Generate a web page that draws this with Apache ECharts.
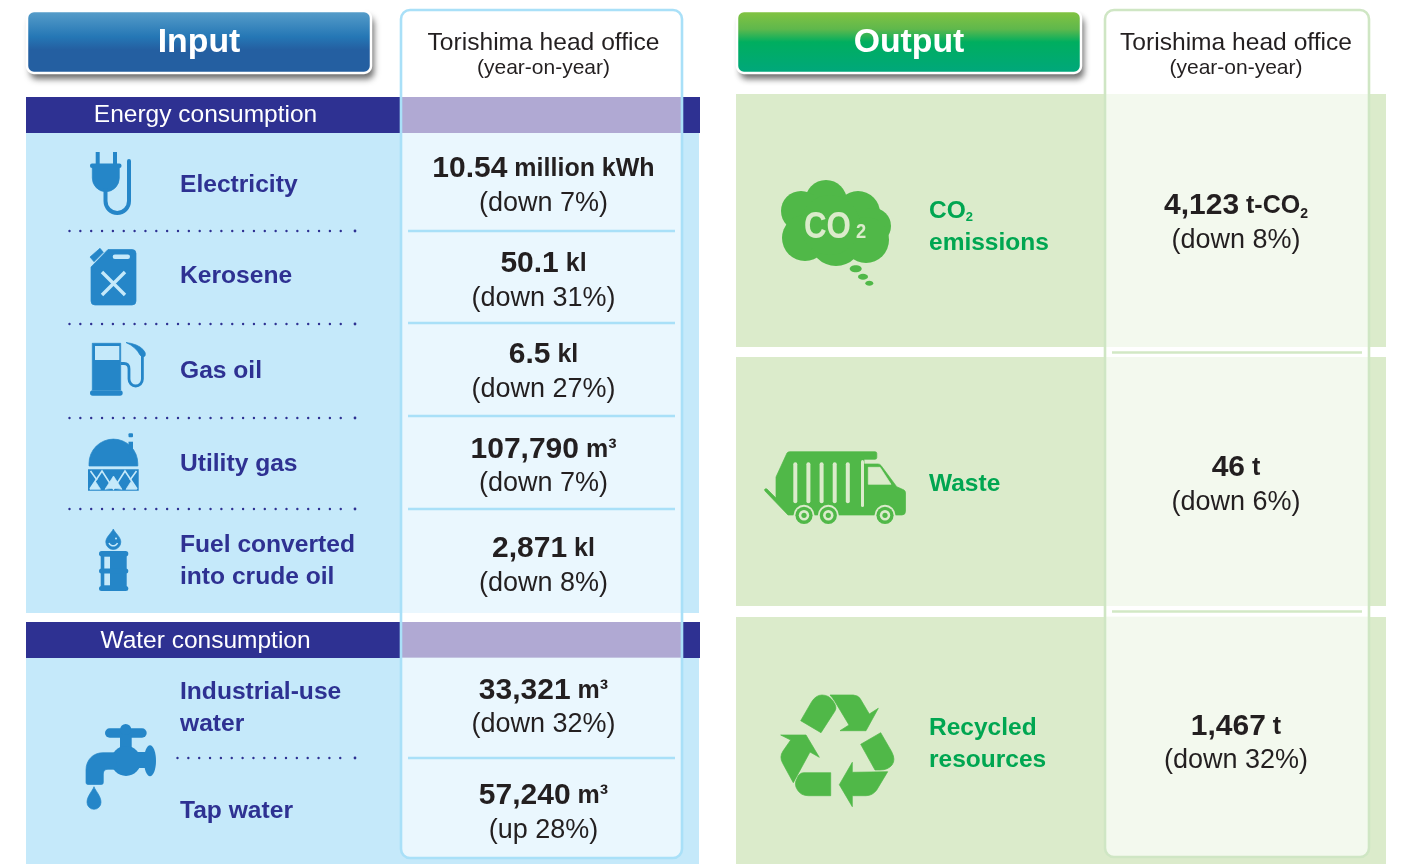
<!DOCTYPE html>
<html>
<head>
<meta charset="utf-8">
<title>Input / Output</title>
<style>
  html, body { margin: 0; padding: 0; background: #fff; }
  #main { width: 1401px; height: 864px; }
</style>
<script src="https://cdn.jsdelivr.net/npm/echarts@6/dist/echarts.min.js"></script>
</head>
<body>
<div id="main"></div>
<script>
// table content
var inputTitle = 'Input';
var outputTitle = 'Output';
var officeTitle = 'Torishima head office';
var officeSub = '(year-on-year)';
var groupTitles = ['Energy consumption', 'Water consumption'];

var inputNames = [['Electricity'], ['Kerosene'], ['Gas oil'], ['Utility gas'], ['Fuel converted', 'into crude oil'], ['Industrial-use', 'water'], ['Tap water']];
var inputValues = ['10.54', '50.1', '6.5', '107,790', '2,871', '33,321', '57,240'];
var inputUnits = ['million kWh', 'kl', 'kl', 'm³', 'kl', 'm³', 'm³'];
var inputChanges = ['(down 7%)', '(down 31%)', '(down 27%)', '(down 7%)', '(down 8%)', '(down 32%)', '(up 28%)'];

var outputNames = [['CO2', 'emissions'], ['Waste'], ['Recycled', 'resources']];
var outputValues = ['4,123', '46', '1,467'];
var outputUnits = ['t-CO2', 't', 't'];
var outputChanges = ['(down 8%)', '(down 6%)', '(down 32%)'];

// layout
var inputNameY = [[184], [275], [370], [463], [544, 576], [691, 723], [810]];
var inputValueY = [167, 262, 353, 448, 547, 689, 794];
var inputChangeY = [202, 297, 388, 482, 582, 723, 829];
var outputNameY = [[210, 242], [483], [727, 759]];
var outputValueY = [204, 466, 725];
var outputChangeY = [239, 501, 759];

var NAVY = '#2e3192', BLUE = '#2586c8', SKY = '#c5e9fa', SKYLINE = '#a9e0f8', CELL = '#eaf7fe';
var GREEN = '#50b848', LEAF = '#00a651', MINT = '#dbebcb', MINTLINE = '#cfe6c4', MINTCELL = '#f3f9ee';
var INK = '#231f20';
var SANS = '"Liberation Sans", Arial, sans-serif';

var g = [];

function rect(x, y, w, h, fill, r) {
  g.push({ type: 'rect', shape: { x: x, y: y, width: w, height: h, r: r || 0 }, style: { fill: fill } });
}
// y is the visual middle of the line, canvas middle sits a bit high for this font
function txt(x, y, s, size, color, bold, align) {
  g.push({ type: 'text', x: x, y: y + 1, style: {
    text: s, fill: color, align: align || 'center', verticalAlign: 'middle',
    font: (bold ? 'bold ' : '') + size + 'px ' + SANS
  } });
}
function hline(x1, x2, y, color, w) {
  g.push({ type: 'line', shape: { x1: x1, y1: y, x2: x2, y2: y }, style: { stroke: color, lineWidth: w } });
}
function dots(x1, x2, y) {
  g.push({ type: 'line', shape: { x1: x1, y1: y, x2: x2, y2: y }, style: { stroke: NAVY, lineWidth: 2.4, lineCap: 'round', lineDash: [0, 10.85] } });
  g.push({ type: 'circle', shape: { cx: 355, cy: y, r: 1.4 }, style: { fill: NAVY } });
}
function path(d, fill) {
  g.push({ type: 'path', shape: { pathData: d }, style: { fill: fill, stroke: fill, lineWidth: 0.7 } });
}
function stroke(d, color, w, cap) {
  g.push({ type: 'path', shape: { pathData: d }, style: { fill: 'none', stroke: color, lineWidth: w, lineCap: cap || 'butt' } });
}
function circle(cx, cy, r, fill) {
  g.push({ type: 'circle', shape: { cx: cx, cy: cy, r: r }, style: { fill: fill } });
}
function ellipse(cx, cy, rx, ry, fill) {
  g.push({ type: 'ellipse', shape: { cx: cx, cy: cy, rx: rx, ry: ry }, style: { fill: fill } });
}

function button(x, label, stops) {
  // shadow on its own rect, otherwise the stroke throws it onto the gradient
  g.push({ type: 'rect', shape: { x: x, y: 11, width: 344, height: 62, r: 7 }, style: {
    fill: '#777', shadowColor: 'rgba(30,30,30,0.65)', shadowBlur: 6, shadowOffsetX: 3, shadowOffsetY: 6
  } });
  g.push({ type: 'rect', shape: { x: x, y: 11, width: 344, height: 62, r: 7 }, style: {
    fill: { type: 'linear', x: 0, y: 0, x2: 0, y2: 1, colorStops: stops },
    stroke: '#fff', lineWidth: 2.5
  } });
  txt(x + 172, 42, label, 33.8, '#fff', true);
}

// number + unit on one centred line, the unit is a little smaller and sits slightly higher
function valueLine(cx, y, value, unit) {
  var u = unit.indexOf('CO2') >= 0 ? '{u|\u00a0t-CO}{s|2}' : '{u|\u00a0' + unit + '}';
  g.push({ type: 'text', x: cx, y: y + 2, style: {
    text: '{n|' + value + '}' + u, align: 'center', verticalAlign: 'middle',
    rich: {
      n: { font: 'bold 30px ' + SANS, fill: INK, lineHeight: 34, verticalAlign: 'middle' },
      u: { font: 'bold 25px ' + SANS, fill: INK, lineHeight: 34, verticalAlign: 'middle' },
      s: { font: 'bold 14px ' + SANS, fill: INK, lineHeight: 30, verticalAlign: 'bottom', padding: [0, 0, 2, 0] }
    }
  } });
}

function officeHead(cx) {
  txt(cx, 42, officeTitle, 24.6, INK);
  txt(cx, 67, officeSub, 21, INK);
}

/* ---- input side ---- */
rect(26, 97, 674, 36, NAVY);
rect(26, 622, 674, 36, NAVY);
rect(26, 133, 673, 480, SKY);
rect(26, 658, 673, 206, SKY);
g.push({ type: 'rect', shape: { x: 401, y: 10, width: 281, height: 848, r: 9 }, style: { fill: '#fff' } });
rect(401, 97, 281, 36, '#b0a9d3');
rect(401, 622, 281, 36, '#b0a9d3');
rect(401, 133, 281, 480, CELL);
path('M401 658H682V849A9 9 0 0 1 673 858H410A9 9 0 0 1 401 849Z', CELL);
g.push({ type: 'rect', shape: { x: 401, y: 10, width: 281, height: 848, r: 9 }, style: { fill: 'none', stroke: SKYLINE, lineWidth: 2.6 } });

button(27, inputTitle, [{ offset: 0, color: '#5aa0cb' }, { offset: 0.42, color: '#2577b5' }, { offset: 0.62, color: '#245fa1' }, { offset: 1, color: '#245fa1' }]);
officeHead(543.5);
txt(205.5, 114, groupTitles[0], 24.5, '#fff');
txt(205.5, 640, groupTitles[1], 24.5, '#fff');

[231, 323, 416, 509, 758].forEach(function (y) { hline(408, 675, y, SKYLINE, 2.6); });
[231, 324, 418, 509].forEach(function (y) { dots(69.5, 350, y); });
dots(177.5, 350, 758);

inputNames.forEach(function (lines, i) {
  lines.forEach(function (s, j) { txt(180, inputNameY[i][j], s, 24.6, NAVY, true, 'left'); });
  valueLine(543.5, inputValueY[i], inputValues[i], inputUnits[i]);
  txt(543.5, inputChangeY[i] + 1, inputChanges[i], 27, INK);
});

// plug
rect(95.7, 152, 4, 12, BLUE);
rect(113, 152, 4, 12, BLUE);
rect(90, 163.5, 31.5, 4.6, BLUE, 2);
path('M92.3 168H119.3V178A13.5 13.7 0 0 1 92.3 178Z', BLUE);
stroke('M105.5 190V201A11.75 12 0 0 0 129 201V161', BLUE, 4, 'round');
// jerry can
path('M108 249.5H132A4 4 0 0 1 136 253.5V301A4 4 0 0 1 132 305H95A4 4 0 0 1 91 301V267Z', BLUE);
path('M90 257L100 248.3L103.3 252.3L94 261.7Z', BLUE);
rect(112.7, 254.5, 17.3, 4.5, SKY, 2.2);
stroke('M102 272L125 295M125 272L102 295', SKY, 3.4);
// fuel pump
path('M92.3 343.3H120.7V390H92.3Z', BLUE);
rect(95, 346, 24.3, 14, SKY);
rect(90, 390.3, 32.7, 5.4, BLUE, 2.7);
stroke('M120.7 363.5H124Q129 363.5 129 369V379A6.7 7 0 0 0 142.4 379V355', BLUE, 2.8);
path('M126 342.5Q138 344 143 349.5Q146.5 353 145 356Q142 358.5 140 355Q136 347 126 342.5Z', BLUE);
// gas holder
path('M89 466V463.5A24.4 24.4 0 0 1 137.8 463.5V466Z', BLUE);
rect(128.5, 433.3, 4.5, 4, BLUE, 1);
rect(128.5, 441.7, 4.5, 11, BLUE);
rect(88, 469.3, 50.7, 21.4, BLUE);
stroke('M90 489L102 471L113.5 489L125 471L137 489', SKY, 1.6);
stroke('M90.5 471L97 480M136.5 471L130 480', SKY, 1.6);
path('M90 489.3L95.5 481.5L100.5 489.3Z', SKY);
path('M126 489.3L131 481.5L136.5 489.3Z', SKY);
path('M105 489.3Q113.5 487 122 489.3L113.5 476Z', SKY);
// oil drum with drop
path('M113.3 529C115 533 120.8 537 120.8 542A7.5 7.5 0 0 1 105.8 542C105.8 537 111.6 533 113.3 529Z', BLUE);
stroke('M109 543A4.6 4.6 0 0 0 117.5 543', SKY, 1.5);
circle(116, 538.5, 1, SKY);
rect(100.7, 553, 26, 36, BLUE);
rect(99, 551, 29.3, 5.5, BLUE, 2.7);
rect(99, 568.5, 29.3, 5, BLUE, 2.5);
rect(99, 586, 29.3, 5, BLUE, 2.5);
rect(104.3, 556.7, 5.7, 11.8, SKY);
rect(104.3, 573.5, 5.7, 11.8, SKY);
// faucet
rect(105, 728.3, 41.7, 9.4, BLUE, 4.7);
circle(125.7, 729.5, 5.5, BLUE);
rect(120, 735, 11.7, 16, BLUE);
circle(126, 761, 15, BLUE);
rect(130, 752, 18, 16, BLUE);
ellipse(150, 760.7, 6, 15.5, BLUE);
path('M115 752.7H103C93 752.7 86 760 86 770V782.5Q86 784.5 88 784.5H101.5Q103.3 784.5 103.3 782.5V774Q103.3 769.3 108 769.3H118Z', BLUE);
path('M94 786.7C95.5 791 101 796 101 802.3A7 7 0 0 1 87 802.3C87 796 92.5 791 94 786.7Z', BLUE);

/* ---- output side ---- */
rect(736, 94, 650, 253, MINT);
rect(736, 357, 650, 249, MINT);
rect(736, 617, 650, 247, MINT);
g.push({ type: 'rect', shape: { x: 1105, y: 10, width: 264, height: 847, r: 9 }, style: { fill: '#fff' } });
rect(1105, 94, 264, 253, MINTCELL);
rect(1105, 357, 264, 249, MINTCELL);
path('M1105 617H1369V848A9 9 0 0 1 1360 857H1114A9 9 0 0 1 1105 848Z', MINTCELL);
g.push({ type: 'rect', shape: { x: 1105, y: 10, width: 264, height: 847, r: 9 }, style: { fill: 'none', stroke: MINTLINE, lineWidth: 2.6 } });
hline(1112, 1362, 352.5, '#d2e8c5', 2.6);
hline(1112, 1362, 611.5, '#d2e8c5', 2.6);

button(737, outputTitle, [{ offset: 0, color: '#86c440' }, { offset: 0.3, color: '#5fb84c' }, { offset: 0.5, color: '#00ae5f' }, { offset: 1, color: '#00a77d' }]);
officeHead(1236);

outputNames.forEach(function (lines, i) {
  lines.forEach(function (s, j) {
    if (s === 'CO2') {
      g.push({ type: 'text', x: 929, y: outputNameY[i][j], style: {
        text: '{a|CO}{b|2}', align: 'left', verticalAlign: 'middle',
        rich: {
          a: { font: 'bold 24.5px ' + SANS, fill: LEAF, lineHeight: 28, verticalAlign: 'bottom' },
          b: { font: 'bold 13px ' + SANS, fill: LEAF, lineHeight: 25, verticalAlign: 'bottom' }
        }
      } });
    } else {
      txt(929, outputNameY[i][j], s, 24.5, LEAF, true, 'left');
    }
  });
  valueLine(1236, outputValueY[i], outputValues[i], outputUnits[i]);
  txt(1236, outputChangeY[i] + 1, outputChanges[i], 27, INK);
});

// cloud
[[826, 201, 21], [801, 211, 20], [858, 213, 22], [873, 226, 18], [805, 238, 23], [836, 240, 26], [866, 240, 23], [830, 225, 30]].forEach(function (c) {
  circle(c[0], c[1], c[2], GREEN);
});
g.push({ type: 'text', x: 804, y: 228, scaleX: 0.87, style: { text: 'CO', align: 'left', verticalAlign: 'middle', fill: MINT, font: 'bold 36px ' + SANS } });
g.push({ type: 'text', x: 856, y: 232, scaleX: 0.87, style: { text: '2', align: 'left', verticalAlign: 'middle', fill: MINT, font: 'bold 21px ' + SANS } });
ellipse(855.7, 268.7, 6, 3.5, GREEN);
ellipse(863, 276.7, 5, 3, GREEN);
ellipse(869.3, 283.3, 4, 2.5, GREEN);

// garbage truck
path('M790 451.7H875Q876.8 451.7 876.8 453.5V457.5Q876.8 459.3 875 459.3H864V464H878Q880 464 881 465.5L896.7 486.7L904 490Q905.5 491 905.5 493V511Q905.5 515 902 515H788L765 491Q764 489.5 765 489Q766 488.5 767 489L776 498V477L787 453Q788 451.7 790 451.7Z', GREEN);
rect(861, 460, 3, 47, MINT, 1.5);
path('M868.3 467.3H880L891 484.3H868.3Z', MINT);
[793.3, 806.4, 819.6, 832.7, 845.8].forEach(function (x) { rect(x, 462.3, 4, 41, MINT, 2); });
[804, 828.3, 885].forEach(function (x) {
  circle(x, 515.3, 10.5, MINT);
  circle(x, 515.3, 8.6, GREEN);
  circle(x, 515.3, 5.2, MINT);
  circle(x, 515.3, 2.6, GREEN);
});

// recycling arrows
path('M830 695H853.3Q858 695.5 860 698.3L869.3 714L878.3 708.3L866 730.7H840L849 725L835 701.7Q832.5 697.5 830 695Z', GREEN);
path('M800.7 720.7L811.7 701.7Q816 695 822 695Q829 695 833 701Q837.5 707 835 711L821 732.7Z', GREEN);
path('M880.7 732.7L891.7 751.7Q896 760 892 765Q888 770 880 770H875L860.7 744.3Z', GREEN);
path('M887.7 771.7L876.7 790Q872.5 795.7 866 795.7H852.3V806.7L839.3 784.7L852.3 762.3V772.3Z', GREEN);
path('M830.7 772.7V795.7H808.3Q801 795.7 797.5 790Q793.5 784 797 778.5Q799 772.7 804 772.7Z', GREEN);
path('M780.7 735H806L819.3 757.3L810 752L793.3 782.7L782.7 763.3Q779 757 783 751L790.7 740Z', GREEN);

var chart = echarts.init(document.getElementById('main'));
chart.setOption({
  animation: false,
  series: [{
    type: 'custom',
    coordinateSystem: 'none',
    silent: true,
    clip: false,
    data: [0],
    renderItem: function () {
      return { type: 'group', children: g };
    }
  }]
});
window.addEventListener('resize', function () { chart.resize(); });
</script>
</body>
</html>
